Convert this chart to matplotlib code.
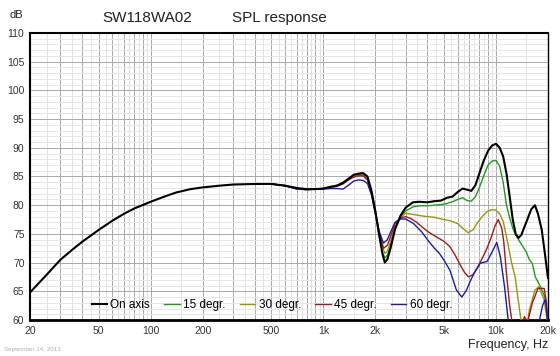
import numpy as np
import matplotlib.pyplot as plt
from matplotlib.ticker import FixedLocator, NullFormatter

plt.rcParams['font.family'] = ['Liberation Sans', 'DejaVu Sans']

# on axis
f_on = [20, 25, 30, 35, 40, 50, 60, 70, 80, 100, 120, 140, 170, 200, 250, 300, 400, 500,
        600, 700, 800, 900, 1000, 1100, 1200, 1300, 1400, 1500, 1600, 1700, 1800, 1900,
        2000, 2100, 2200, 2270, 2350, 2450, 2600, 2800, 3000, 3300, 3600, 4000, 4400,
        4800, 5200, 5600, 6000, 6400, 6800, 7200, 7600, 8000, 8500, 9000, 9500, 10000,
        10500, 11000, 11500, 12000, 12500, 13000, 13500, 14000, 15000, 16000, 16800,
        17500, 18400, 19200, 20000]
db_on = [64.8, 67.9, 70.5, 72.2, 73.6, 75.7, 77.3, 78.5, 79.4, 80.6, 81.5, 82.2, 82.8, 83.1,
         83.4, 83.6, 83.7, 83.7, 83.4, 83.0, 82.8, 82.8, 82.9, 83.2, 83.4, 83.9, 84.6, 85.3,
         85.5, 85.6, 85.0, 82.5, 79.0, 75.0, 71.5, 70.0, 70.6, 72.5, 75.8, 78.2, 79.6, 80.5,
         80.6, 80.5, 80.7, 80.8, 81.3, 81.5, 82.3, 82.9, 82.7, 82.5, 83.5, 85.5, 87.8, 89.5,
         90.4, 90.7, 90.0, 88.5, 85.5, 81.5, 77.5, 75.0, 74.3, 74.8, 77.1, 79.3, 80.0, 78.5,
         75.7, 71.5, 67.3]

# 15 degr.
f_15 = [500, 600, 700, 800, 900, 1000, 1100, 1200, 1300, 1400, 1500, 1600, 1700, 1800, 1900,
        2000, 2100, 2200, 2270, 2350, 2450, 2600, 2800, 3000, 3300, 3600, 4000, 4400, 4800,
        5200, 5600, 6000, 6400, 6800, 7200, 7600, 8000, 8500, 9000, 9500, 10000, 10500,
        11000, 11500, 12000, 12500, 13000, 13500, 14300, 15000, 15600, 16200, 16900, 18100,
        19000, 19600, 20000]
db_15 = [83.7, 83.4, 82.9, 82.8, 82.8, 82.9, 83.2, 83.5, 84.0, 84.7, 85.2, 85.4, 85.4, 84.8,
         82.3, 78.8, 74.9, 71.8, 70.8, 71.3, 73.0, 76.0, 77.9, 79.0, 79.7, 79.9, 79.9, 80.0,
         80.1, 80.3, 80.6, 81.0, 81.3, 80.8, 80.7, 81.5, 83.0, 85.2, 87.0, 87.7, 87.8, 86.8,
         84.0, 80.0, 77.8, 76.0, 74.8, 74.0, 72.8, 71.8, 70.5, 69.9, 67.5, 65.8, 64.3, 62.3,
         60.5]

# 30 degr.
f_30 = [500, 600, 700, 800, 900, 1000, 1100, 1200, 1300, 1400, 1500, 1600, 1700, 1800, 1900,
        2000, 2100, 2200, 2270, 2350, 2450, 2600, 2800, 3000, 3300, 3600, 4000, 4400, 4800,
        5400, 6000, 6400, 6900, 7400, 7800, 8300, 8900, 9400, 9900, 10500, 11000, 11700,
        12300, 12900, 13700, 14100, 15000, 15600, 16800, 17700, 19000, 20000]
db_30 = [83.7, 83.4, 82.9, 82.8, 82.8, 82.9, 83.1, 83.4, 83.9, 84.6, 85.0, 85.2, 85.2, 84.6,
         82.3, 79.0, 75.5, 72.8, 71.6, 72.0, 73.6, 76.2, 77.9, 78.6, 78.4, 78.2, 78.0, 77.9,
         77.6, 77.3, 76.8, 76.0, 75.2, 75.8, 76.9, 78.0, 78.9, 79.2, 79.2, 78.5, 77.2, 73.4,
         70.0, 67.5, 61.7, 59.0, 58.5, 61.7, 65.2, 65.8, 63.5, 59.0]

# 45 degr.
f_45 = [500, 600, 700, 800, 900, 1000, 1100, 1200, 1300, 1400, 1500, 1600, 1700, 1800, 1900,
        2000, 2100, 2230, 2350, 2450, 2600, 2800, 3000, 3200, 3440, 3700, 4030, 4500, 5000,
        5400, 5800, 6200, 6600, 6940, 7350, 7770, 8400, 8900, 9400, 9900, 10300, 10800,
        11100, 11500, 12000, 12400, 13000, 14000, 14600, 15200, 16200, 17500, 19000, 19600,
        20000]
db_45 = [83.7, 83.4, 82.9, 82.7, 82.8, 82.9, 83.1, 83.3, 83.7, 84.4, 84.9, 85.1, 85.1, 84.4,
         82.0, 78.8, 75.5, 72.5, 73.0, 74.5, 76.8, 77.8, 78.0, 77.7, 77.1, 76.3, 75.4, 74.5,
         73.7, 72.8, 71.3, 69.6, 68.2, 67.5, 67.9, 69.0, 71.0, 72.6, 74.5, 76.5, 77.5, 76.0,
         73.5, 68.0, 62.5, 59.5, 57.0, 58.5, 60.6, 59.5, 62.9, 65.5, 65.5, 63.0, 59.0]

# 60 degr.
f_60 = [500, 600, 700, 800, 900, 1000, 1100, 1200, 1300, 1400, 1500, 1600, 1700, 1800, 1900,
        2000, 2100, 2230, 2350, 2450, 2600, 2800, 3000, 3330, 3700, 4030, 4400, 4700, 5000,
        5400, 5900, 6340, 6750, 7100, 7450, 8100, 8870, 9400, 10100, 10600, 11200, 11700,
        12100, 17000, 18000, 18600, 19300, 20000]
db_60 = [83.7, 83.4, 82.8, 82.7, 82.8, 82.8, 82.9, 82.9, 82.8, 83.5, 84.2, 84.4, 84.3, 83.8,
         81.8, 78.5, 75.5, 73.4, 74.0, 75.3, 77.0, 77.6, 77.6, 76.8, 75.4, 73.9, 72.5, 71.6,
         70.4, 68.7, 65.2, 64.0, 65.2, 66.8, 68.1, 69.9, 70.2, 71.6, 73.5, 71.0, 65.8, 60.6,
         57.0, 57.0, 60.5, 62.5, 63.6, 59.0]

x_ticks = [20, 50, 100, 200, 500, 1000, 2000, 5000, 10000, 20000]
x_labels = ['20', '50', '100', '200', '500', '1k', '2k', '5k', '10k', '20k']

fig = plt.figure(figsize=(5.6, 3.56), dpi=100)
ax = fig.add_axes([30 / 560, 36 / 356, 518 / 560, 287 / 356])

# grid
major_f = [m * 10 ** k for k in range(1, 5) for m in range(1, 10)]
minor_f = [(m + 0.5) * 10 ** k for k in range(1, 5) for m in range(1, 10)]
for v in minor_f:
    ax.axvline(v, color='#e2e2e2', lw=0.7, zorder=0)
for v in major_f:
    ax.axvline(v, color='#a8a8a8', lw=0.7, zorder=0)
for v in range(60, 111):
    ax.axhline(v, color='#e6e6e6' if v % 5 else '#a8a8a8', lw=0.7, zorder=0)

ax.plot(f_15, db_15, color='#1f9a1f', lw=1.0, label='15 degr.', zorder=3)
ax.plot(f_30, db_30, color='#9a9410', lw=1.0, label='30 degr.', zorder=3)
ax.plot(f_45, db_45, color='#a01c1c', lw=1.0, label='45 degr.', zorder=3)
ax.plot(f_60, db_60, color='#1c1ca0', lw=1.0, label='60 degr.', zorder=3)
ax.plot(f_on, db_on, color='black', lw=1.5, label='On axis', zorder=4)

ax.set_xscale('log')
ax.set_xlim(20, 20000)
ax.set_ylim(60, 110)
ax.xaxis.set_major_locator(FixedLocator(x_ticks))
ax.set_xticklabels(x_labels)
ax.xaxis.set_minor_formatter(NullFormatter())
ax.set_yticks(range(60, 111, 5))
ax.tick_params(length=0, which='both', labelsize=7.5, labelcolor='#333333')
ax.tick_params(axis='x', pad=4)
ax.tick_params(axis='y', pad=4)
for s in ax.spines.values():
    s.set_color('black')
    s.set_linewidth(1.0)
ax.spines['bottom'].set_linewidth(2.0)
ax.spines['top'].set_linewidth(1.5)
ax.spines['left'].set_linewidth(1.5)

h, l = ax.get_legend_handles_labels()
order = [4, 0, 1, 2, 3]
ax.legend([h[i] for i in order], [l[i] for i in order], loc='center',
          bbox_to_anchor=(0.467, 0.052), ncol=5, frameon=False, fontsize=8.5,
          handlelength=1.3, handletextpad=0.3, columnspacing=1.2)

fig.text(102 / 560, 1 - 18 / 356, 'SW118WA02', fontsize=11, va='center', color='#222222')
fig.text(232 / 560, 1 - 18 / 356, 'SPL response', fontsize=11, va='center', color='#222222')
fig.text(9 / 560, 1 - 15 / 356, 'dB', fontsize=8, va='center', color='#222222')
fig.text(548 / 560, 1 - 345 / 356, 'Frequency, Hz', fontsize=9, ha='right', va='center',
         color='#222222')
fig.text(4 / 560, 1 - 349 / 356, 'September 14, 2013', fontsize=4.5, va='center',
         color='#b0b0b0')

fig.savefig('out.png', dpi=100)
